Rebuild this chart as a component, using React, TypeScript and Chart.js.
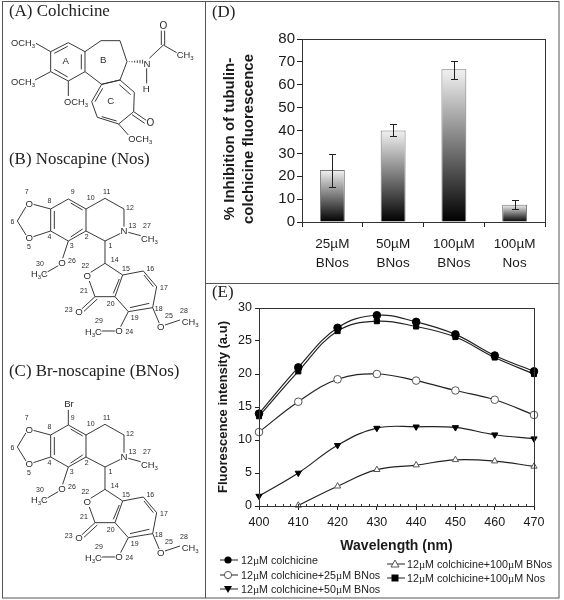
import React, { useEffect, useRef } from "react";
import { Chart, registerables } from "chart.js";

Chart.register(...registerables);

const SANS = '"Liberation Sans", Arial, sans-serif';
const SERIF = '"Liberation Serif", "Times New Roman", serif';

// Panel D
const barCategories = [["25µM", "BNos"], ["50µM", "BNos"], ["100µM", "BNos"], ["100µM", "Nos"]];
const barValues = [22.7, 40, 66.8, 7.5];
const barLow = [15.5, 37.4, 62.5, 5.5];
const barHigh = [29.7, 42.7, 70.5, 9.4];
const barAxisTitle = ["% Inhibition of tubulin-", "colchicine fluorescence"];

// Panel E
const wavelengths = [400, 410, 420, 430, 440, 450, 460, 470];
const colchicine = [14, 21, 27, 28.9, 27.9, 26, 22.8, 20.4];
const plus25BNos = [11.2, 15.8, 19.2, 20, 19, 17.5, 16.1, 13.8];
const plus50BNos = [1.5, 5, 9.2, 11.8, 12, 11.9, 10.8, 10.2];
const plus100BNos = [null, 0.1, 3, 5.5, 6.2, 7, 6.8, 6];
const plus100Nos = [13.6, 20.4, 26.5, 28, 27.2, 25.6, 22.5, 20];

const frame = {
  id: "frame",
  afterDraw(chart: any) {
    const { ctx, chartArea: a } = chart;
    ctx.save();
    ctx.strokeStyle = "#333";
    ctx.lineWidth = 1;
    ctx.strokeRect(Math.round(a.left) + 0.5, Math.round(a.top) + 0.5, Math.round(a.right - a.left), Math.round(a.bottom - a.top));
    ctx.restore();
  },
};

const errorBars = {
  id: "errorBars",
  afterDatasetsDraw(chart: any) {
    const { ctx } = chart;
    const meta = chart.getDatasetMeta(0);
    const y = chart.scales.y;
    ctx.save();
    ctx.strokeStyle = "#222";
    ctx.lineWidth = 1;
    meta.data.forEach((bar: any, i: number) => {
      const x = Math.round(bar.x) + 0.5;
      const top = Math.round(y.getPixelForValue(barHigh[i])) + 0.5;
      const bot = Math.round(y.getPixelForValue(barLow[i])) + 0.5;
      ctx.beginPath();
      ctx.moveTo(x, top); ctx.lineTo(x, bot);
      ctx.moveTo(x - 3.5, top); ctx.lineTo(x + 3.5, top);
      ctx.moveTo(x - 3.5, bot); ctx.lineTo(x + 3.5, bot);
      ctx.stroke();
    });
    ctx.restore();
  },
};

const barTitle = {
  id: "barTitle",
  afterDraw(chart: any) {
    const { ctx } = chart;
    ctx.save();
    ctx.fillStyle = "#1a1a1a";
    ctx.font = `bold 15px ${SANS}`;
    ctx.textAlign = "center";
    ctx.textBaseline = "middle";
    barAxisTitle.forEach((line, i) => {
      ctx.save();
      ctx.translate(25 + i * 19, 139);
      ctx.rotate(-Math.PI / 2);
      ctx.fillText(line, 0, 0);
      ctx.restore();
    });
    ctx.restore();
  },
};

const minorTicks = {
  id: "minorTicks",
  afterDraw(chart: any) {
    const { ctx, chartArea: a, scales } = chart;
    ctx.save();
    ctx.strokeStyle = "#333";
    ctx.lineWidth = 1;
    ctx.beginPath();
    for (let v = scales.x.min + 2; v < scales.x.max; v += 2) {
      const x = Math.round(scales.x.getPixelForValue(v)) + 0.5;
      ctx.moveTo(x, a.bottom);
      ctx.lineTo(x, a.bottom - 2);
    }
    ctx.stroke();
    ctx.restore();
  },
};

function barFill(c: any) {
  const chart = c.chart;
  if (!chart.chartArea || c.parsed === undefined) return "#666";
  const y = chart.scales.y;
  const g = chart.ctx.createLinearGradient(0, y.getPixelForValue(c.parsed.y), 0, y.getPixelForValue(0));
  g.addColorStop(0, "#f2f2f2");
  g.addColorStop(1, "#000000");
  return g;
}

function BarPanel() {
  const ref = useRef<HTMLCanvasElement>(null);
  useEffect(() => {
    const chart = new Chart(ref.current!, {
      type: "bar",
      data: {
        labels: barCategories,
        datasets: [{
          data: barValues,
          backgroundColor: barFill,
          borderColor: "#777",
          borderWidth: 1,
          categoryPercentage: 1,
          barPercentage: 0.41,
        }],
      },
      options: {
        animation: false,
        responsive: false,
        layout: { padding: { top: 39, right: 14, left: 0, bottom: 0 } },
        plugins: { legend: { display: false }, tooltip: { enabled: false } },
        scales: {
          x: {
            afterFit: (s: any) => { s.height = 61; },
            border: { color: "#222" },
            grid: { drawOnChartArea: false, tickLength: 5, color: "#222" },
            ticks: { color: "#1a1a1a", font: { family: SANS, size: 13.5, lineHeight: 1.4 }, maxRotation: 0, padding: 8 },
          },
          y: {
            min: 0, max: 80,
            afterFit: (s: any) => { s.width = 97; },
            border: { color: "#222" },
            grid: { drawOnChartArea: false, tickLength: 5, color: "#222" },
            ticks: { stepSize: 10, color: "#1a1a1a", font: { family: SANS, size: 15 }, padding: 2 },
          },
        },
      },
      plugins: [errorBars, barTitle, frame],
    } as any);
    return () => chart.destroy();
  }, []);
  return <canvas ref={ref} width={354} height={283} style={{ position: "absolute", left: 205, top: 0, width: 354, height: 283 }} />;
}

function LinePanel() {
  const ref = useRef<HTMLCanvasElement>(null);
  useEffect(() => {
    const base = { borderColor: "#222", borderWidth: 1.2, tension: 0.4, pointBorderWidth: 1, clip: false };
    const mk = (label: string, data: any[], pointStyle: string, radius: number, fill: string) => ({
      ...base, label, data: data.map((v, i) => ({ x: wavelengths[i], y: v })), pointStyle, pointRadius: radius, pointBackgroundColor: fill,
      pointBorderColor: fill === "#fff" ? "#555" : "#000",
    });
    const chart = new Chart(ref.current!, {
      type: "line",
      data: {
        datasets: [
          mk("12µM colchicine", colchicine, "circle", 3.8, "#000"),
          mk("12µM colchicine+25µM BNos", plus25BNos, "circle", 3.8, "#fff"),
          { ...mk("12µM colchicine+50µM BNos", plus50BNos, "triangle", 3.6, "#000"), pointRotation: 180 },
          mk("12µM colchicine+100µM BNos", plus100BNos, "triangle", 3.6, "#fff"),
          mk("12µM colchicine+100µM Nos", plus100Nos, "rect", 3.6, "#000"),
        ],
      },
      options: {
        animation: false,
        responsive: false,
        layout: { padding: { top: 23, right: 25, left: 11, bottom: 45 } },
        plugins: { legend: { display: false }, tooltip: { enabled: false } },
        scales: {
          x: {
            type: "linear", min: 400, max: 470,
            afterFit: (s: any) => { s.height = 49; },
            border: { color: "#222" },
            grid: { drawOnChartArea: false, tickLength: 4, color: "#222" },
            ticks: { stepSize: 10, color: "#1a1a1a", font: { family: SANS, size: 12.5 }, padding: 5, maxRotation: 0 },
            title: { display: true, text: "Wavelength (nm)", color: "#1a1a1a", font: { family: SANS, size: 14, weight: "bold" }, padding: 0 },
          },
          y: {
            min: 0, max: 30,
            afterFit: (s: any) => { s.width = 43; },
            border: { color: "#222" },
            grid: { drawOnChartArea: false, tickLength: 4, color: "#222" },
            ticks: { stepSize: 5, color: "#1a1a1a", font: { family: SANS, size: 12.5 }, padding: 3 },
            title: { display: true, text: "Fluorescence intensity (a.u)", color: "#1a1a1a", font: { family: SANS, size: 13, weight: "bold" }, padding: 0 },
          },
        },
      },
      plugins: [minorTicks, frame],
    } as any);
    return () => chart.destroy();
  }, []);
  return <canvas ref={ref} width={354} height={315} style={{ position: "absolute", left: 205, top: 285, width: 354, height: 315 }} />;
}

const ink = "#2a2a2a";

function Label({ x, y, size = 29, children, anchor = "start" }: any) {
  return (
    <text x={x} y={y} fontSize={size} fontFamily={SANS} fill={ink} textAnchor={anchor}
      stroke="#fff" strokeWidth={size > 24 ? 5 : 0} paintOrder="stroke">{children}</text>
  );
}

function Sub({ x, y, head = "", tail = "" }: any) {
  return (
    <text x={x} y={y} fontSize={28} fontFamily={SANS} fill={ink} stroke="#fff" strokeWidth={4} paintOrder="stroke">
      {head}<tspan fontSize={18} dy={6}>3</tspan>{tail && <tspan dy={-6}>{tail}</tspan>}
    </text>
  );
}

function Colchicine() {
  const d = [
    "M152 155L205 128L255 155L255 215L205 243L152 215Z",
    "M163 160L203 139M244 163L244 208M163 208L203 231",
    "M255 155L303 122L360 122L381 185L360 240L305 253L255 215",
    "M305 253L360 240L403 277L401 335L356 372L292 352L275 305Z",
    "M358 254L392 284M285 305L308 265M305 350L350 363",
    "M401 335L440 362M396 344L434 370",
    "M152 155L108 130M152 215L105 240M205 243L205 288M356 372L385 405",
    "M448 175L490 135M484 135L484 92M494 135L494 92M490 135L530 158M440 205L440 250",
  ];
  const hashes = [388, 396, 404, 412, 420, 428];
  return (
    <g>
      <path d={d.join("")} fill="none" stroke={ink} strokeWidth={2.8} />
      {hashes.map((h, i) => <line key={h} x1={h} x2={h} y1={185 - 1 - i} y2={185 + 1 + i} stroke={ink} strokeWidth={2.6} />)}
      <Sub x={33} y={138} head="OCH" />
      <Sub x={33} y={255} head="OCH" />
      <Sub x={192} y={314} head="OCH" />
      <Sub x={385} y={427} head="OCH" />
      <Label x={490} y={86} size={30} anchor="middle">O</Label>
      <Label x={451} y={378} size={30} anchor="middle">O</Label>
      <Label x={441} y={200} size={29} anchor="middle">N</Label>
      <Label x={439} y={276} size={29} anchor="middle">H</Label>
      <Sub x={530} y={175} head="CH" />
      <Label x={197} y={193} size={29} anchor="middle">A</Label>
      <Label x={310} y={188} size={29} anchor="middle">B</Label>
      <Label x={332} y={312} size={29} anchor="middle">C</Label>
    </g>
  );
}

const atomNumbers: [string, number, number][] = [
  ["7", 80, -2], ["8", 148, 24], ["9", 218, -2], ["10", 272, 14], ["11", 320, -2], ["12", 390, 46],
  ["13", 397, 98], ["27", 441, 100], ["6", 37, 87], ["5", 87, 163], ["4", 148, 132], ["3", 215, 158],
  ["2", 260, 132], ["1", 331, 158], ["14", 344, 200], ["15", 378, 228], ["16", 451, 228], ["17", 492, 286],
  ["18", 476, 347], ["19", 404, 375], ["20", 332, 334], ["21", 252, 294], ["22", 256, 218], ["23", 206, 352],
  ["24", 388, 418], ["25", 507, 369], ["28", 552, 355], ["29", 297, 384], ["26", 216, 204], ["30", 120, 212],
];

function Noscapine({ dy, bromo = false }: any) {
  const d = [
    "M152 42L205 12L258 42L258 108L205 138L152 108Z",
    "M163 48L163 102M212 24L248 45M212 126L248 102",
    "M258 42L315 10L372 42L372 95M362 115L315 138L258 108",
    "M385 112L422 122M152 42L100 28M152 108L100 125M78 35L52 78L78 120",
    "M205 138L188 190M175 212L135 235M315 138L315 205",
    "M315 205L368 240L345 305L285 305L268 258M272 232L315 205",
    "M368 240L430 228L470 275L458 338L385 350L345 305",
    "M358 252L340 295M432 240L460 275M390 338L448 325",
    "M285 305L245 342M292 312L252 349",
    "M385 350L362 395M345 408L300 408M458 338L478 385M495 390L540 375",
    bromo ? "M205 -33L205 12" : "",
  ];
  return (
    <g transform={`translate(0 ${dy})`}>
      <path d={d.join("")} fill="none" stroke={ink} strokeWidth={2.8} />
      {[[88, 35], [88, 138], [186, 214], [262, 252], [237, 360], [357, 418], [482, 405]].map(([x, y]) => (
        <Label key={`${x}-${y}`} x={x} y={y} size={29} anchor="middle">O</Label>
      ))}
      <Label x={372} y={118} size={29} anchor="middle">N</Label>
      <Sub x={423} y={140} head="CH" />
      <Sub x={93} y={245} head="H" tail="C" />
      <Sub x={255} y={420} head="H" tail="C" />
      <Sub x={545} y={391} head="CH" />
      {bromo && <Label x={207} y={-41} size={29} anchor="middle">Br</Label>}
      {atomNumbers.map(([n, x, y]) => <Label key={n} x={x} y={y} size={21} anchor="middle">{n}</Label>)}
    </g>
  );
}

const legendRows: [string, number, number, number, string][] = [
  ["12µM colchicine", 225, 560, 16, "fc"],
  ["12µM colchicine+25µM BNos", 225, 575, 16, "oc"],
  ["12µM colchicine+50µM BNos", 225, 589, 16, "ft"],
  ["12µM colchicine+100µM BNos", 392, 564, 15, "ot"],
  ["12µM colchicine+100µM Nos", 392, 578, 15, "fs"],
];

function LegendMark({ kind, x, y }: any) {
  if (kind === "fc") return <circle cx={x} cy={y} r={3.6} fill="#000" />;
  if (kind === "oc") return <circle cx={x} cy={y} r={3.6} fill="#fff" stroke="#555" />;
  if (kind === "ft") return <polygon points={`${x - 4},${y - 3} ${x + 4},${y - 3} ${x},${y + 4}`} fill="#000" />;
  if (kind === "ot") return <polygon points={`${x - 4},${y + 3} ${x + 4},${y + 3} ${x},${y - 4}`} fill="#fff" stroke="#555" />;
  return <rect x={x - 3.5} y={y - 3.5} width={7} height={7} fill="#000" />;
}

export default function App() {
  useEffect(() => { document.body.style.margin = "0"; }, []);
  return (
    <div style={{ position: "absolute", left: 0, top: 0, width: 564, height: 600, background: "#fff", overflow: "hidden" }}>
      <BarPanel />
      <LinePanel />
      <svg width={564} height={600} style={{ position: "absolute", left: 0, top: 0, pointerEvents: "none" }}>
        <g fill="none" stroke="#555" strokeWidth={1}>
          <rect x={2.5} y={1.5} width={556.5} height={596.5} />
          <line x1={205.5} x2={205.5} y1={1} y2={598} />
          <line x1={205} x2={559} y1={283.5} y2={283.5} />
        </g>
        <g fontFamily={SERIF} fontSize={16.9} fill="#222">
          <text x={9} y={16}>(A) Colchicine</text>
          <text x={9} y={164}>(B) Noscapine (Nos)</text>
          <text x={9} y={376}>(C) Br-noscapine (BNos)</text>
          <text x={212} y={17}>(D)</text>
          <text x={212} y={297}>(E)</text>
        </g>
        <g transform="scale(0.3333)"><Colchicine /></g>
        <g transform="translate(0 195) scale(0.3333)"><Noscapine dy={0} /></g>
        <g transform="translate(0 395) scale(0.3333)"><Noscapine dy={78} bromo /></g>
        {legendRows.map(([t, x, y, off, k]) => (
          <g key={t}>
            <line x1={x - 5} x2={x + 13} y1={y} y2={y} stroke="#222" />
            <LegendMark kind={k} x={x + 3} y={y} />
            <text x={x + off} y={y + 4} fontFamily={SANS} fontSize={10.7} fill="#222">
              {t.split("µ").map((part, i) => (
                <React.Fragment key={i}>{i > 0 && <tspan fontFamily={SERIF}>µ</tspan>}{part}</React.Fragment>
              ))}
            </text>
          </g>
        ))}
      </svg>
    </div>
  );
}
